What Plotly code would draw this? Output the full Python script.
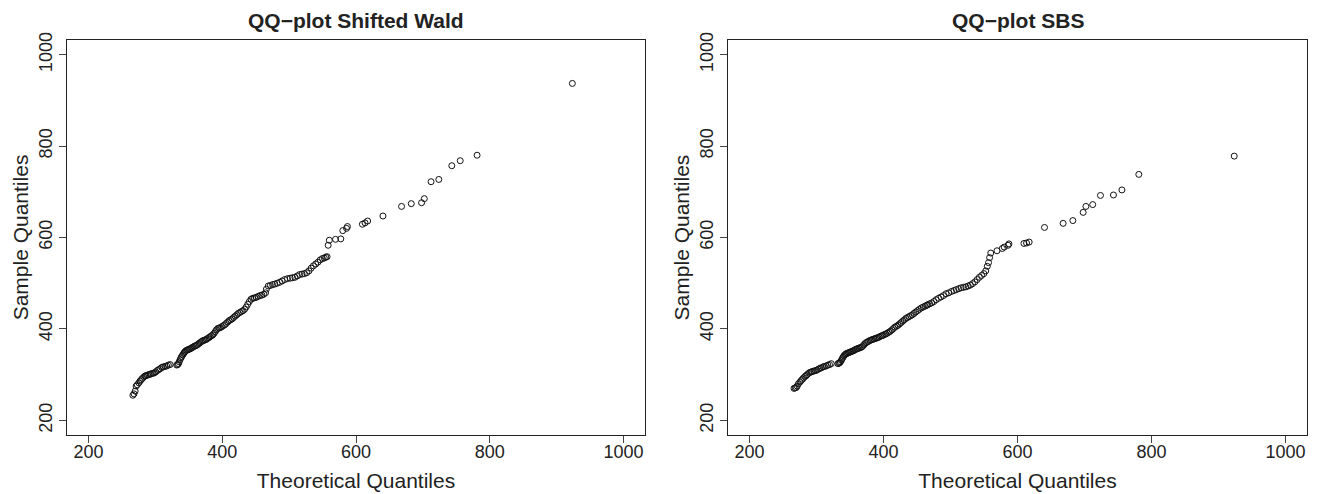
import plotly.graph_objects as go

# Shared theoretical quantiles (x)
theoretical = [
    266.5, 268.2, 269.9, 271.3, 273.0, 275.4, 277.2, 279.0, 280.8, 282.9, 284.6, 286.1, 288.3, 290.2,
    292.4, 294.0, 296.5, 298.7, 300.6, 302.9, 305.1, 307.4, 309.8, 311.9, 314.6, 317.0, 319.5, 322.1,
    332.0, 333.4, 334.5, 335.7, 337.1, 338.4, 339.6, 340.9, 342.3, 343.5, 344.8, 346.4, 348.0, 349.6,
    351.1, 352.9, 354.6, 356.2, 358.1, 359.9, 361.5, 363.4, 365.2, 367.0, 368.9, 370.6, 372.5, 374.3,
    376.2, 378.0, 380.1, 382.0, 383.8, 385.9, 387.7, 389.6, 391.3, 393.4, 395.4, 397.5, 399.4, 401.6,
    403.7, 405.9, 408.2, 410.3, 412.6, 414.9, 417.0, 419.4, 421.8, 424.0, 426.3, 428.8, 431.1, 433.5,
    435.9, 438.2, 440.6, 443.1, 445.6, 448.2, 450.9, 453.6, 456.5, 459.4, 462.3, 464.8,
    466.1, 468.9, 472.0, 475.3, 478.6, 482.2, 485.9, 489.6, 493.4, 497.5, 501.6, 505.2, 508.7, 512.3,
    515.8, 519.4, 522.9, 526.3, 529.7, 533.0, 536.4, 539.8, 543.1, 546.5, 549.8, 552.6, 554.9, 556.8,
    558.4, 560.1,
    569.4, 577.3, 580.2, 585.9, 587.2, 609.6, 613.5, 617.4, 640.3, 668.1, 682.6, 698.0, 702.1, 712.2,
    723.8, 743.2, 755.8, 781.0, 923.4,
]

# Sample quantiles, Shifted Wald
sample_wald = [
    255, 258, 264, 275, 278, 282, 286, 289, 292, 295, 297, 298, 299, 300,
    301, 302, 303, 304, 306, 309, 311, 313, 316, 317, 318, 319, 321, 322,
    321, 322, 324, 328, 333, 337, 340, 343, 346, 349, 351, 353, 354, 355,
    356, 357, 359, 360, 362, 363, 364, 366, 368, 370, 372, 374, 375, 376,
    377, 379, 381, 383, 385, 387, 390, 394, 398, 401, 402, 403, 405, 407,
    409, 412, 415, 418, 420, 422, 425, 428, 431, 434, 436, 438, 440, 443,
    448, 454, 460, 465, 467, 468, 469, 471, 473, 474, 476, 479,
    487, 494, 495, 497, 498, 500, 502, 505, 508, 510, 511, 512, 513, 516,
    519, 520, 521, 523, 527, 533, 538, 542, 546, 551, 554, 555, 557, 558,
    583, 594,
    596, 597, 615, 620, 624, 629, 632, 636, 647, 668, 674, 676, 685, 722,
    727, 757, 768, 780, 937,
]

# Sample quantiles, SBS
sample_sbs = [
    270, 271, 272, 275, 280, 284, 287, 290, 293, 296, 298, 300, 303, 305,
    306, 307, 308, 309, 310, 312, 314, 315, 317, 318, 319, 321, 322, 324,
    324, 325, 326, 328, 331, 335, 338, 341, 343, 345, 346, 347, 348, 349,
    350, 351, 352, 353, 355, 356, 357, 358, 359, 360, 362, 365, 368, 370,
    372, 373, 375, 376, 377, 378, 379, 380, 381, 382, 384, 385, 386, 388,
    389, 391, 393, 395, 398, 401, 404, 406, 408, 411, 414, 417, 420, 423,
    425, 427, 429, 431, 434, 437, 440, 443, 446, 448, 450, 452,
    453, 455, 457, 460, 464, 467, 470, 473, 477, 479, 482, 484, 486, 488,
    490, 491, 492, 494, 496, 499, 503, 508, 513, 517, 521, 527, 537, 545,
    556, 566,
    571, 576, 579, 583, 586, 587, 588, 590, 622, 631, 637, 655, 668, 672,
    692, 693, 704, 738, 778,
]

titles = ["QQ\u2212plot Shifted Wald", "QQ\u2212plot SBS"]
tick_vals = [200, 400, 600, 800, 1000]
x_title = "Theoretical Quantiles"
y_title = "Sample Quantiles"

FONT = "Liberation Sans, Arial, Helvetica, sans-serif"
W, H = 1318, 494
L, R, T, B = 67, 11, 40, 59
dom1 = [0.0, (645 - L) / (W - L - R)]
dom2 = [(728 - L) / (W - L - R), 1.0]
AX_RANGE = [168, 1032]

fig = go.Figure()
for i, ys in enumerate([sample_wald, sample_sbs]):
    fig.add_trace(go.Scatter(
        x=theoretical, y=ys, mode="markers",
        marker=dict(symbol="circle-open", size=6, color="#111",
                    line=dict(width=1, color="#111")),
        xaxis="x" if i == 0 else "x2", yaxis="y" if i == 0 else "y2",
        showlegend=False, hoverinfo="x+y",
    ))
# empty traces so the tick-mark-only overlay x axes are drawn
fig.add_trace(go.Scatter(x=[], y=[], xaxis="x3", yaxis="y", showlegend=False, hoverinfo="skip"))
fig.add_trace(go.Scatter(x=[], y=[], xaxis="x4", yaxis="y2", showlegend=False, hoverinfo="skip"))

base = dict(range=AX_RANGE, tickvals=tick_vals, showgrid=False, zeroline=False, automargin=False)
label_font = dict(family=FONT, size=18, color="#222")
xmain = dict(base, showline=True, linecolor="#222", linewidth=1, mirror=True,
             ticks="", tickfont=label_font,
             title=dict(text=x_title, font=dict(family=FONT, size=21, color="#222"), standoff=12))
xticks = dict(base, showline=False, ticks="outside", ticklen=7, tickwidth=1, tickcolor="#444",
              showticklabels=False, side="bottom")
ymain = dict(base, showline=True, linecolor="#222", linewidth=1, mirror=True,
             ticks="outside", ticklen=7, tickwidth=1, tickcolor="#444", tickangle=-90,
             tickfont=label_font,
             title=dict(text=y_title, font=dict(family=FONT, size=21, color="#222"), standoff=1))

fig.update_layout(
    width=W, height=H,
    margin=dict(l=L, r=R, t=T, b=B),
    paper_bgcolor="white", plot_bgcolor="white",
    xaxis=dict(xmain, domain=dom1, anchor="y"),
    xaxis2=dict(xmain, domain=dom2, anchor="y2"),
    xaxis3=dict(xticks, overlaying="x", anchor="y"),
    xaxis4=dict(xticks, overlaying="x2", anchor="y2"),
    yaxis=dict(ymain, domain=[0, 1], anchor="x"),
    yaxis2=dict(ymain, domain=[0, 1], anchor="x2"),
    annotations=[
        dict(text="<b>%s</b>" % titles[0], xref="paper", yref="paper",
             x=(dom1[0] + dom1[1]) / 2, y=1, yshift=20, xanchor="center", yanchor="middle",
             showarrow=False, font=dict(family=FONT, size=21, color="#222")),
        dict(text="<b>%s</b>" % titles[1], xref="paper", yref="paper",
             x=(dom2[0] + dom2[1]) / 2, y=1, yshift=20, xanchor="center", yanchor="middle",
             showarrow=False, font=dict(family=FONT, size=21, color="#222")),
    ],
)

fig.write_html("out.html", config={"displayModeBar": False},
               post_script="document.body.style.margin='0';")
